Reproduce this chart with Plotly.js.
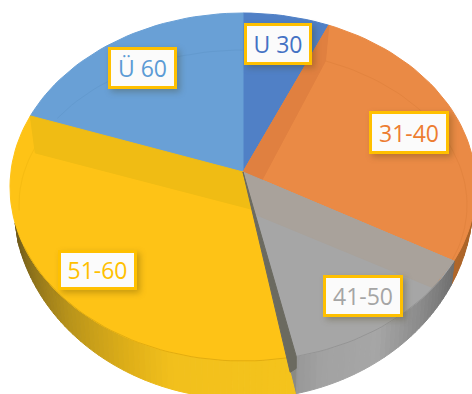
<!DOCTYPE html>
<html><head><meta charset="utf-8">
<script src="https://cdn.plot.ly/plotly-3.0.1.min.js"></script>
<style>html,body{margin:0;padding:0;background:#fff}#c{width:472px;height:394px}
.annotation rect.bg{filter:drop-shadow(3px 3px 3px rgba(60,50,0,.28))}</style>
</head><body><div id="c"></div>
<script>
// data
const categories = ["U 30","31-40","41-50","51-60","Ü 60"];
const values = [6.0,26.0,15.0,34.7,18.3];
const topColors = ["#5080c6","#ea8a45","#a6a6a6","#fec316","#69a0d6"];
const textColors = ["#4472c4","#ed7d31","#a5a5a5","#ffc000","#5b9bd5"];
const labelX = [278,409,363,97.5,142.5];
const labelY = [44,132.5,296,270,68];
const labelW = [68,80,80,79,69];
const labelH = [42,43,42,40,42];
// view geometry of the tilted disc
const apex=[243,172];
const outer={cx:243,cy:187,rx:233,ry:174};
const inner={cx:243,cy:205,rx:224,ry:155};
const base ={cx:243,cy:201,rx:230,ry:198};
const sideStops=[[85,"#a05c20"],[115,"#b0662a"],[115.01,"#6e6e6e"],[128,"#868686"],[145,"#a6a6a6"],[160,"#a2a2a2"],[168,"#969696"],[168.01,"#f4c31c"],[198,"#f2c01c"],[209,"#e0b018"],[229,"#b8931a"],[258,"#6f5a1a"]];

const rad=d=>d*Math.PI/180;
const E=(e,t)=>[e.cx+e.rx*Math.sin(rad(t)),e.cy-e.ry*Math.cos(rad(t))];
const lerp=(a,b,f)=>[a[0]+(b[0]-a[0])*f,a[1]+(b[1]-a[1])*f];
const hex=c=>[1,3,5].map(i=>parseInt(c.substr(i,2),16));
function colorAt(t){
  for(let i=0;i<sideStops.length-1;i++){
    const [a,ca]=sideStops[i],[b,cb]=sideStops[i+1];
    if(t>=a&&t<=b){const f=(t-a)/(b-a),x=hex(ca),y=hex(cb);
      return `rgb(${x.map((v,k)=>Math.round(v+(y[k]-v)*f)).join(",")})`;}
  }
  return sideStops[sideStops.length-1][1];
}
const traces=[];
function poly(pts,color){traces.push({type:"scatter",mode:"lines",x:pts.map(p=>p[0]).concat(pts[0][0]),y:pts.map(p=>p[1]).concat(pts[0][1]),fill:"toself",fillcolor:color,line:{color:color,width:1},hoverinfo:"skip"});}
function line(pts,color,w){traces.push({type:"scatter",mode:"lines",x:pts.map(p=>p[0]),y:pts.map(p=>p[1]),line:{color:color,width:w||1},hoverinfo:"skip"});}
function arc(e,a,b){const n=Math.max(2,Math.ceil(Math.abs(b-a)/2)),r=[];for(let i=0;i<=n;i++)r.push(E(e,a+(b-a)*i/n));return r;}

const total=values.reduce((a,b)=>a+b,0);
const T=[0];values.forEach(v=>T.push(T[T.length-1]+v/total*360));
const gapT=T[3]-2.4;

// side wall, split at the slice edges so no strip straddles two colours
function wall(a,b,step){
  for(let t=a;t<b-1e-6;t+=step){
    const e=Math.min(t+step,b);
    poly([E(outer,t),E(outer,e),E(base,e),E(base,t)],colorAt((t+e)/2));
  }
}
wall(85,T[2],3);
wall(T[2],gapT,1.5);
wall(T[3],258,1.5);
poly([E(outer,T[3]),E(base,gapT),E(outer,gapT)],"#8a8a84");
poly([E(outer,T[3]),E(base,gapT),E(base,T[3])],"#f4c31c");
// top faces
values.forEach((v,i)=>poly([apex].concat(arc(outer,T[i],T[i+1])),topColors[i]));
// inner bevel lines
line(arc(inner,304,360),"#639acf");
line(arc(inner,T[1],122),"#e3843f");
line(arc(inner,292,268),"#f6bc12");
// bevel bands
const tipEnd=E(outer,gapT);
poly([E(outer,T[1]),apex,lerp(apex,E(outer,T[2]),0.09),E(inner,T[1])],"#e08040");
poly([apex,E(outer,T[2]),E(inner,T[2]+7),lerp(apex,tipEnd,0.23)],"#a9a29b");
const yo=E(outer,T[4]);
poly([yo,apex,lerp(apex,E(outer,T[3]),0.2),[yo[0]+5,yo[1]+37]],"#f0bc14");
// rim line
line(arc(outer,T[2]+7,gapT),"#959595",1);
line(arc(outer,T[3],250),"#e2ad10",1);
// cut wall between 41-50 and 51-60
const p1=E(outer,T[3]),p2=tipEnd;
poly([apex,p1,lerp(p1,E(base,gapT),0.4),[p2[0],p2[1]+12],p2],"#6b6a60");

const annotations=categories.map((c,i)=>({
  x:labelX[i],y:labelY[i],xref:"x",yref:"y",text:c,showarrow:false,
  font:{family:"Open Sans",size:23,color:textColors[i]},
  bgcolor:"#fbfbfb",bordercolor:"#ffc000",borderwidth:3,borderpad:0,
  width:labelW[i]-6,height:labelH[i]-6,align:"center",valign:"middle"
}));
Plotly.newPlot("c",traces,{
  width:472,height:394,margin:{l:0,r:0,t:0,b:0},showlegend:false,
  paper_bgcolor:"#fff",plot_bgcolor:"#fff",hovermode:false,
  xaxis:{range:[0,472],visible:false,fixedrange:true},
  yaxis:{range:[394,0],visible:false,fixedrange:true},
  annotations:annotations
},{displayModeBar:false,staticPlot:true});
</script></body></html>
